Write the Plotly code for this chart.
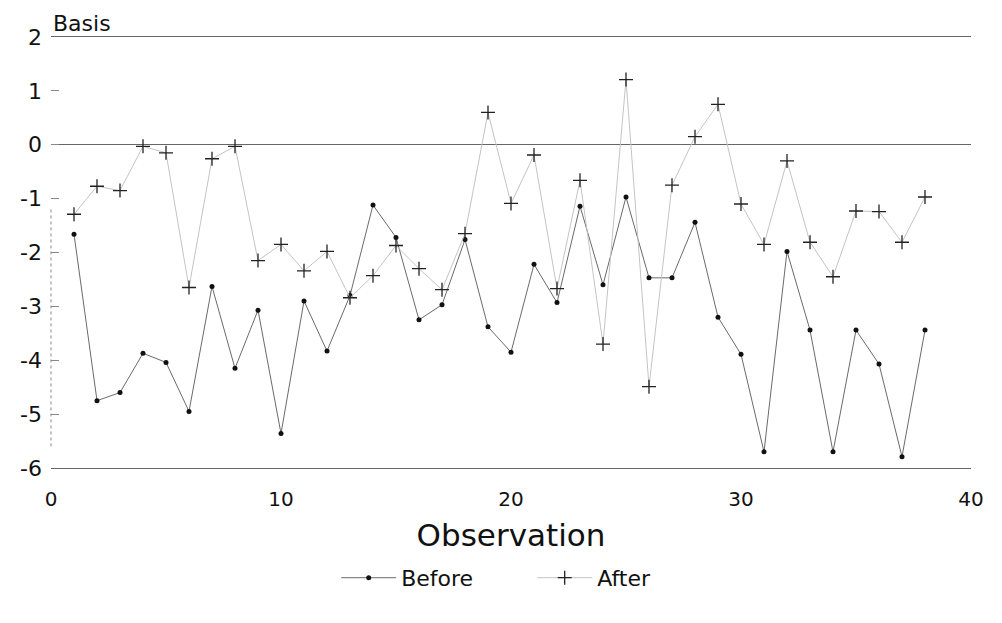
import plotly.graph_objects as go

observation = list(range(1, 39))

before = [-1.66, -4.75, -4.60, -3.87, -4.04, -4.95, -2.63, -4.15, -3.07, -5.36,
          -2.90, -3.83, -2.80, -1.12, -1.72, -3.25, -2.97, -1.76, -3.38, -3.85,
          -2.22, -2.93, -1.14, -2.60, -0.97, -2.47, -2.47, -1.44, -3.20, -3.89,
          -5.70, -1.98, -3.44, -5.70, -3.44, -4.07, -5.79, -3.44]

after = [-1.29, -0.77, -0.85, -0.03, -0.15, -2.65, -0.26, -0.03, -2.15, -1.85,
         -2.34, -1.98, -2.84, -2.43, -1.87, -2.30, -2.69, -1.65, 0.60, -1.09,
         -0.19, -2.67, -0.66, -3.70, 1.21, -4.49, -0.75, 0.15, 0.75, -1.10,
         -1.85, -0.30, -1.81, -2.45, -1.23, -1.24, -1.81, -0.97]

y_ticks = [-6, -5, -4, -3, -2, -1, 0, 1, 2]
y_tick_labels = ["-6", "-5", "-4", "-3", "-2", "-1", "0", "1", "2"]
x_ticks = [0, 10, 20, 30, 40]

WIDE = "DejaVu Sans, sans-serif"

fig = go.Figure()
fig.add_trace(go.Scatter(
    x=observation, y=before, name="Before", mode="lines+markers",
    line=dict(color="#6a6a6a", width=1),
    marker=dict(symbol="circle", size=5, color="#111111"),
))
fig.add_trace(go.Scatter(
    x=observation, y=after, name="After", mode="lines+markers",
    line=dict(color="#c4c4c4", width=1),
    marker=dict(symbol="cross-thin", size=10, line=dict(color="#222222", width=1.3)),
))

# dotted left axis
fig.add_shape(type="line", xref="paper", yref="y", x0=0, x1=0, y0=-5.6, y1=-1.2,
              line=dict(color="#888888", width=1, dash="dot"))

fig.update_layout(
    width=986, height=607,
    margin=dict(l=43, r=23, t=29, b=147, autoexpand=False),
    paper_bgcolor="white", plot_bgcolor="white",
    font=dict(family=WIDE, color="#111111"),
    showlegend=True,
    legend=dict(orientation="h", x=0.31, xanchor="left", y=-0.255, yanchor="middle",
                font=dict(size=22, family=WIDE), itemwidth=55, entrywidth=126,
                bgcolor="rgba(0,0,0,0)"),
    annotations=[dict(text="Basis", xref="paper", yref="paper", x=0, y=1.064,
                      xanchor="left", yanchor="top", showarrow=False,
                      font=dict(size=22, family=WIDE))],
)

fig.update_xaxes(
    range=[0, 40], tickvals=x_ticks, showgrid=False, zeroline=False,
    showline=True, mirror=True, linecolor="#666666", linewidth=1,
    ticks="", tickfont=dict(size=20, family=WIDE), ticklabelstandoff=13,
    automargin=False,
    title=dict(text="Observation", font=dict(size=31, family=WIDE), standoff=14),
)
fig.update_yaxes(
    range=[-6, 2], tickvals=y_ticks, ticktext=y_tick_labels, showgrid=False,
    zeroline=True, zerolinecolor="#666666", zerolinewidth=1,
    showline=False, ticks="inside", ticklen=8, tickcolor="#888888",
    tickfont=dict(size=22, family=WIDE), ticklabelstandoff=8,
    automargin=False,
)

fig.write_html("out.html")
